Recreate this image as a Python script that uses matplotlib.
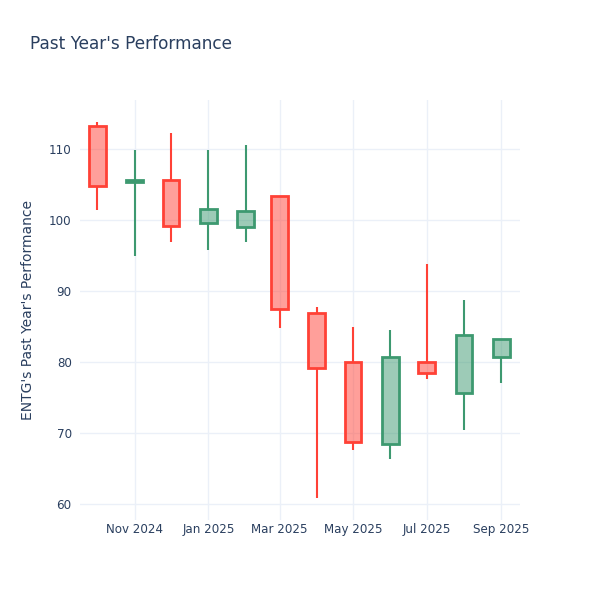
import numpy as np
import matplotlib
matplotlib.use('Agg')
import matplotlib.pyplot as plt
import matplotlib.dates as mdates
from datetime import datetime, timedelta

# Dados mensais
meses = ['2024-10-01', '2024-11-01', '2024-12-01', '2025-01-01', '2025-02-01', '2025-03-01',
         '2025-04-01', '2025-05-01', '2025-06-01', '2025-07-01', '2025-08-01', '2025-09-01']
abertura = [113.3, 105.3, 105.6, 99.6, 99.0, 103.4, 86.9, 80.0, 68.4, 80.0, 75.7, 80.7]
maxima = [113.8, 109.9, 112.3, 109.9, 110.5, 103.4, 87.8, 85.0, 84.5, 93.8, 88.8, 83.3]
minima = [101.4, 95.0, 96.9, 95.8, 96.9, 84.8, 60.8, 67.6, 66.4, 77.6, 70.4, 77.1]
fechamento = [104.8, 105.6, 99.1, 101.5, 101.3, 87.5, 79.1, 68.8, 80.7, 78.5, 83.8, 83.3]

yticks = [60, 70, 80, 90, 100, 110]
xticks = ['2024-11-01', '2025-01-01', '2025-03-01', '2025-05-01', '2025-07-01', '2025-09-01']

cor_texto = '#2a3f5f'
cor_grade = '#EBF0F8'
cor_sobe = '#3D9970'
cor_desce = '#FF4136'

datas = [datetime.strptime(d, '%Y-%m-%d') for d in meses]

fig = plt.figure(figsize=(6, 6), dpi=100)
ax = fig.add_axes([80 / 600, 80 / 600, 440 / 600, 420 / 600])

largura = 14  # dias
for d, o, h, l, c in zip(datas, abertura, maxima, minima, fechamento):
    cor = cor_sobe if c >= o else cor_desce
    topo = max(o, c)
    base = min(o, c)
    x = mdates.date2num(d)
    ax.vlines(x, topo, h, color=cor, linewidth=1.5, zorder=2)
    ax.vlines(x, l, base, color=cor, linewidth=1.5, zorder=2)
    ax.bar(x, topo - base, bottom=base, width=largura, color=cor, alpha=0.5,
           linewidth=0, zorder=3)
    ax.bar(x, topo - base, bottom=base, width=largura, facecolor='none',
           edgecolor=cor, linewidth=2, zorder=4)

ax.set_ylim(57.75, 116.9)
ax.set_xlim(mdates.date2num(datetime(2024, 9, 16, 12)), mdates.date2num(datetime(2025, 9, 16, 12)))

ax.set_yticks(yticks)
ax.set_xticks([mdates.date2num(datetime.strptime(d, '%Y-%m-%d')) for d in xticks])
ax.xaxis.set_major_formatter(mdates.DateFormatter('%b %Y'))

ax.grid(True, color=cor_grade, linewidth=1, zorder=0)
ax.set_axisbelow(True)
for s in ax.spines.values():
    s.set_visible(False)
ax.tick_params(length=0, colors=cor_texto, labelsize=8.6, pad=6)
ax.tick_params(axis='x', pad=2)

ax.set_ylabel("ENTG's Past Year's Performance", color=cor_texto, fontsize=10, labelpad=10)
fig.text(30 / 600, 1 - 44 / 600, "Past Year's Performance", color=cor_texto,
         fontsize=12.2, va='center', ha='left')

fig.savefig('out.png', dpi=100)
